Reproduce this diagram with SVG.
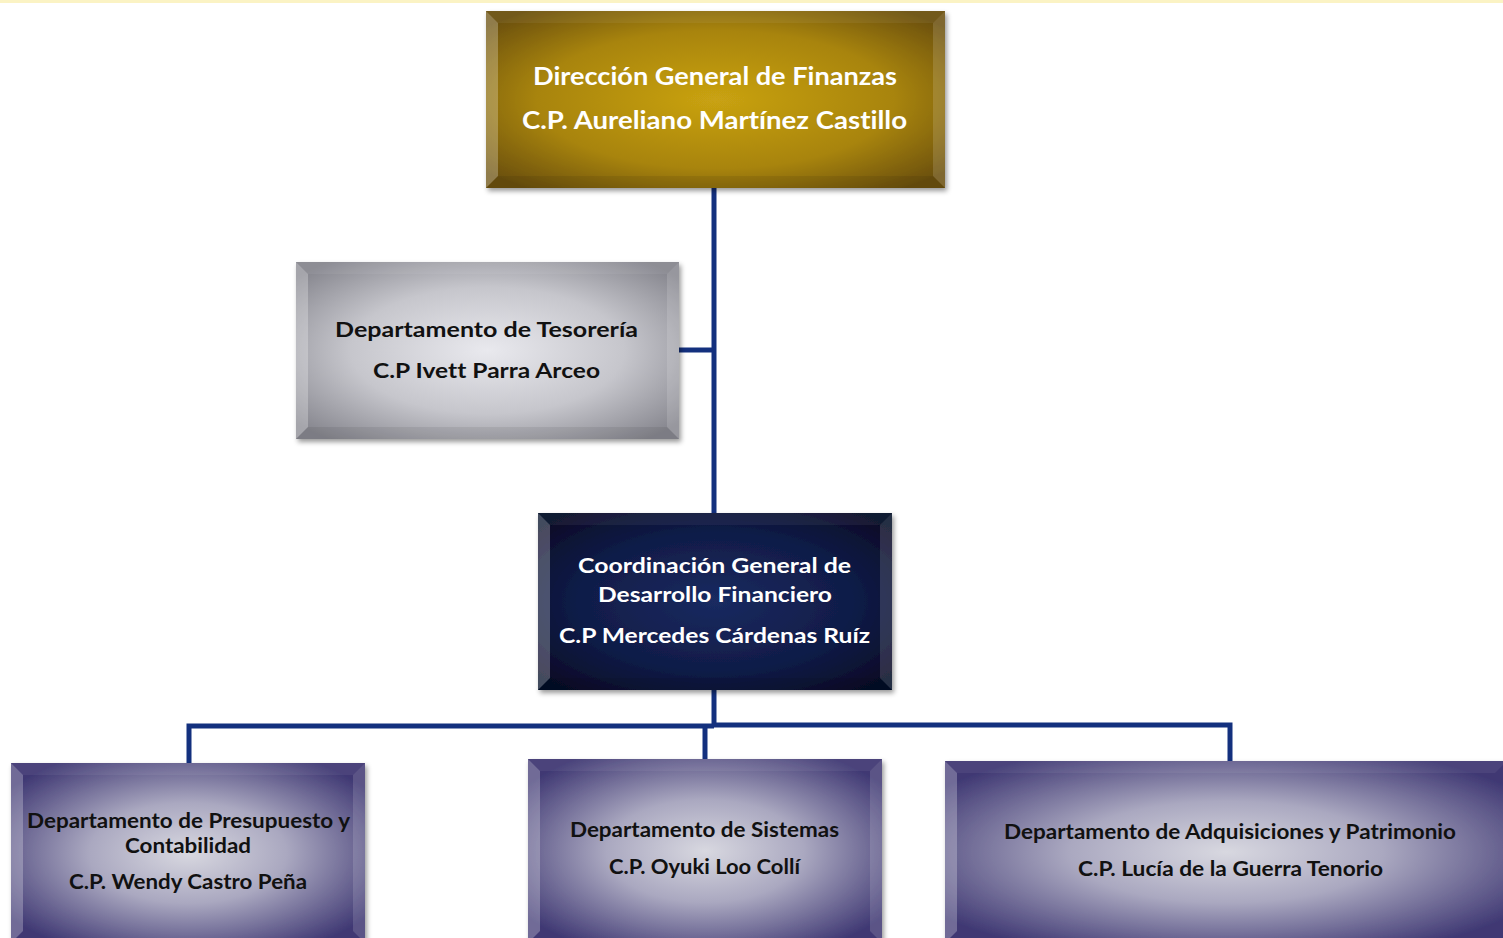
<svg xmlns="http://www.w3.org/2000/svg" width="1503" height="938" viewBox="0 0 1503 938">
<defs>
<radialGradient id="gGold" cx="50%" cy="50%" r="65%">
<stop offset="0" stop-color="#c9a212"/><stop offset="0.6" stop-color="#a8840c"/><stop offset="1" stop-color="#6a4f0c"/>
</radialGradient>
<radialGradient id="gSilver" cx="50%" cy="50%" r="65%">
<stop offset="0" stop-color="#e9e9ee"/><stop offset="0.55" stop-color="#c6c6cc"/><stop offset="1" stop-color="#86868e"/>
</radialGradient>
<radialGradient id="gNavy" cx="50%" cy="50%" r="65%">
<stop offset="0" stop-color="#1a2a60"/><stop offset="0.6" stop-color="#101c48"/><stop offset="1" stop-color="#060b26"/>
</radialGradient>
<radialGradient id="gPurple" cx="50%" cy="50%" r="62%">
<stop offset="0" stop-color="#d8d8e0"/><stop offset="0.45" stop-color="#aaa8c0"/><stop offset="1" stop-color="#3f3873"/>
</radialGradient>
<filter id="sh" x="-5%" y="-5%" width="112%" height="118%">
<feDropShadow dx="2" dy="3" stdDeviation="2.5" flood-color="#000" flood-opacity="0.4"/>
</filter>
<style>
.lt{fill:#fff;fill-opacity:0.26}
.tp{fill:#fff;fill-opacity:0.06}
.rt{fill:#fff;fill-opacity:0.14}
.bt{fill:#000;fill-opacity:0.07}
.t{font-family:Lato,"Open Sans","Liberation Sans",sans-serif;font-weight:bold;text-anchor:middle;font-variant-ligatures:none}
.w{fill:#ffffff}
.k{fill:#111111}
.con{fill:none;stroke:#13307e;stroke-width:5}
</style>
</defs>
<rect x="0" y="0" width="1503" height="938" fill="#ffffff"/>
<rect x="0" y="0" width="1503" height="3" fill="#fbf3c4"/>

<g id="connectors">
<path class="con" d="M714,188 V513"/>
<path class="con" d="M679,350 H714"/>
<path class="con" d="M714,690 V725"/>
<path class="con" d="M189,763 V726 H714"/>
<path class="con" d="M712,725 H1230 V761"/>
<path class="con" d="M705,725 V759"/>
</g>

<g id="n-direccion">
<rect x="486" y="11" width="459" height="177" fill="url(#gGold)" filter="url(#sh)"/>
<polygon class="lt" points="486,11 498,23 498,176 486,188"/>
<polygon class="tp" points="486,11 945,11 933,23 498,23"/>
<polygon class="rt" points="945,11 945,188 933,176 933,23"/>
<polygon class="bt" points="486,188 498,176 933,176 945,188"/>
<text class="t w" x="715" y="85" font-size="25" textLength="364" lengthAdjust="spacingAndGlyphs">Dirección General de Finanzas</text>
<text class="t w" x="714.5" y="129" font-size="25" textLength="385" lengthAdjust="spacingAndGlyphs">C.P. Aureliano Martínez Castillo</text>
</g>

<g id="n-tesoreria">
<rect x="296" y="262" width="383" height="177" fill="url(#gSilver)" filter="url(#sh)"/>
<polygon class="lt" points="296,262 308,274 308,427 296,439"/>
<polygon class="tp" points="296,262 679,262 667,274 308,274"/>
<polygon class="rt" points="679,262 679,439 667,427 667,274"/>
<polygon class="bt" points="296,439 308,427 667,427 679,439"/>
<text class="t k" x="486.5" y="337" font-size="21" textLength="303" lengthAdjust="spacingAndGlyphs">Departamento de Tesorería</text>
<text class="t k" x="486.5" y="378" font-size="21" textLength="227" lengthAdjust="spacingAndGlyphs">C.P Ivett Parra Arceo</text>
</g>

<g id="n-coordinacion">
<rect x="538" y="513" width="354" height="177" fill="url(#gNavy)" filter="url(#sh)"/>
<polygon class="lt" points="538,513 550,525 550,678 538,690"/>
<polygon class="tp" points="538,513 892,513 880,525 550,525"/>
<polygon class="rt" points="892,513 892,690 880,678 880,525"/>
<polygon class="bt" points="538,690 550,678 880,678 892,690"/>
<text class="t w" x="714.5" y="573" font-size="21.5" textLength="273" lengthAdjust="spacingAndGlyphs">Coordinación General de</text>
<text class="t w" x="715" y="602" font-size="21.5" textLength="234" lengthAdjust="spacingAndGlyphs">Desarrollo Financiero</text>
<text class="t w" x="714.5" y="643" font-size="21.5" textLength="311" lengthAdjust="spacingAndGlyphs">C.P Mercedes Cárdenas Ruíz</text>
</g>

<g id="n-presupuesto">
<rect x="11" y="763" width="354" height="180" fill="url(#gPurple)" filter="url(#sh)"/>
<polygon class="lt" points="11,763 23,775 23,931 11,943"/>
<polygon class="tp" points="11,763 365,763 353,775 23,775"/>
<polygon class="rt" points="365,763 365,943 353,931 353,775"/>
<text class="t k" x="188.5" y="828" font-size="20" textLength="323" lengthAdjust="spacingAndGlyphs">Departamento de Presupuesto y</text>
<text class="t k" x="188" y="853" font-size="20" textLength="126" lengthAdjust="spacingAndGlyphs">Contabilidad</text>
<text class="t k" x="188" y="889" font-size="20" textLength="238" lengthAdjust="spacingAndGlyphs">C.P. Wendy Castro Peña</text>
</g>

<g id="n-sistemas">
<rect x="528" y="759" width="354" height="184" fill="url(#gPurple)" filter="url(#sh)"/>
<polygon class="lt" points="528,759 540,771 540,931 528,943"/>
<polygon class="tp" points="528,759 882,759 870,771 540,771"/>
<polygon class="rt" points="882,759 882,943 870,931 870,771"/>
<text class="t k" x="704.5" y="837" font-size="20" textLength="269" lengthAdjust="spacingAndGlyphs">Departamento de Sistemas</text>
<text class="t k" x="704.5" y="874" font-size="20" textLength="191" lengthAdjust="spacingAndGlyphs">C.P. Oyuki Loo Collí</text>
</g>

<g id="n-adquisiciones">
<rect x="945" y="761" width="562" height="182" fill="url(#gPurple)" filter="url(#sh)"/>
<polygon class="lt" points="945,761 957,773 957,931 945,943"/>
<polygon class="tp" points="945,761 1507,761 1495,773 957,773"/>
<text class="t k" x="1230" y="839" font-size="20" textLength="452" lengthAdjust="spacingAndGlyphs">Departamento de Adquisiciones y Patrimonio</text>
<text class="t k" x="1230.5" y="876" font-size="20" textLength="305" lengthAdjust="spacingAndGlyphs">C.P. Lucía de la Guerra Tenorio</text>
</g>
</svg>
